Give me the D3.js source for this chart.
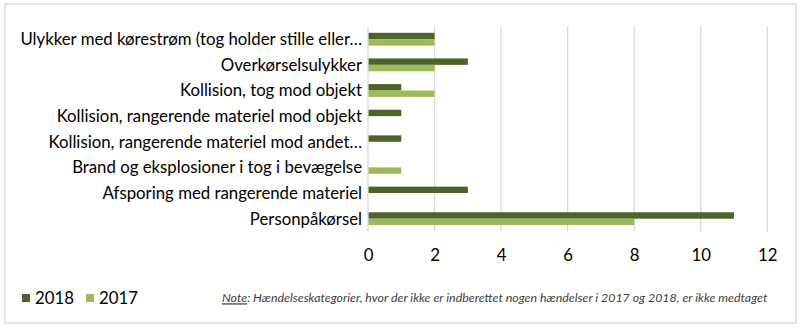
<!DOCTYPE html>
<html>
<head>
<meta charset="utf-8">
<script src="https://cdn.jsdelivr.net/npm/d3@7"></script>
<style>
  html, body { margin: 0; padding: 0; background: #fff; }
  svg { display: block; }
</style>
</head>
<body>
<svg id="chart" width="803" height="329"></svg>
<script>
// Hændelseskategorier (top to bottom)
const categories = [
  "Ulykker med kørestrøm (tog holder stille eller…",
  "Overkørselsulykker",
  "Kollision, tog mod objekt",
  "Kollision, rangerende materiel mod objekt",
  "Kollision, rangerende materiel mod andet…",
  "Brand og eksplosioner i tog i bevægelse",
  "Afsporing med rangerende materiel",
  "Personpåkørsel"
];
const series = ["2018", "2017"];
const values2018 = [2, 3, 1, 1, 1, 0, 3, 11];
const values2017 = [2, 2, 2, 0, 0, 1, 0, 8];
const xTicks = [0, 2, 4, 6, 8, 10, 12];
const colors = ["#4f6228", "#9bbb59"];
const note = "Hændelseskategorier, hvor der ikke er indberettet nogen hændelser i 2017 og 2018, er ikke medtaget";

const svg = d3.select("#chart");
const font = "Lato, 'Open Sans', sans-serif";
const labelSize = 16.8;

// outer frame
svg.append("rect")
  .attr("x", 5).attr("y", 4).attr("width", 791).attr("height", 319)
  .attr("fill", "#fff").attr("stroke", "#d9d9d9").attr("stroke-width", 1.3);

const plot = { left: 368, right: 767.3, top: 26.4, bottom: 231.5 };

const x = d3.scaleLinear().domain([0, 12]).range([plot.left, plot.right]);
const y = d3.scaleBand().domain(categories).range([plot.top, plot.bottom]).paddingInner(0.5).paddingOuter(0.25);
const ySub = d3.scaleBand().domain(series).range([0, y.bandwidth()]);

// vertical gridlines
svg.append("g")
  .selectAll("line")
  .data(xTicks.filter(t => t > 0))
  .join("line")
  .attr("x1", d => x(d)).attr("x2", d => x(d))
  .attr("y1", plot.top).attr("y2", plot.bottom)
  .attr("stroke", "#d9d9d9").attr("stroke-width", 1.3);

// bars
const rows = categories.map((c, i) => ({ c, vals: [values2018[i], values2017[i]] }));
const g = svg.append("g");
rows.forEach(r => {
  r.vals.forEach((v, k) => {
    if (v <= 0) return;
    g.append("rect")
      .attr("x", x(0))
      .attr("y", y(r.c) + ySub(series[k]))
      .attr("width", x(v) - x(0))
      .attr("height", ySub.bandwidth())
      .attr("fill", colors[k]);
  });
});

// category axis line
svg.append("line")
  .attr("x1", x(0)).attr("x2", x(0))
  .attr("y1", plot.top).attr("y2", plot.bottom)
  .attr("stroke", "#d9d9d9").attr("stroke-width", 1.3);

// category labels
svg.append("g")
  .selectAll("text")
  .data(categories)
  .join("text")
  .attr("x", 362)
  .attr("y", d => y(d) + y.bandwidth() / 2)
  .attr("dy", "0.35em")
  .attr("text-anchor", "end")
  .attr("font-family", font)
  .attr("font-size", labelSize)
  .attr("fill", "#000")
  .text(d => d);

// value axis tick labels
const xAxis = d3.axisBottom(x).tickValues(xTicks).tickSize(0).tickPadding(0);
const ax = svg.append("g").attr("transform", `translate(0, ${plot.bottom})`).call(xAxis);
ax.select(".domain").remove();
ax.selectAll("text")
  .attr("y", 24)
  .attr("dy", "0.35em")
  .attr("font-family", font)
  .attr("font-size", labelSize)
  .attr("fill", "#000");

// legend
const legend = svg.append("g");
const legendX = [22, 86];
series.forEach((s, k) => {
  legend.append("rect")
    .attr("x", legendX[k]).attr("y", 294)
    .attr("width", 8).attr("height", 8)
    .attr("fill", colors[k]);
  legend.append("text")
    .attr("x", legendX[k] + 13).attr("y", 298)
    .attr("dy", "0.35em")
    .attr("font-family", font)
    .attr("font-size", labelSize)
    .attr("fill", "#000")
    .text(s);
});

// footnote
const nt = svg.append("text")
  .attr("x", 222).attr("y", 298)
  .attr("dy", "0.35em")
  .attr("font-family", font)
  .attr("font-size", 12.4)
  .attr("font-style", "italic")
  .attr("fill", "#404040");
nt.append("tspan").attr("text-decoration", "underline").text("Note");
nt.append("tspan").text(": " + note);
</script>
</body>
</html>
